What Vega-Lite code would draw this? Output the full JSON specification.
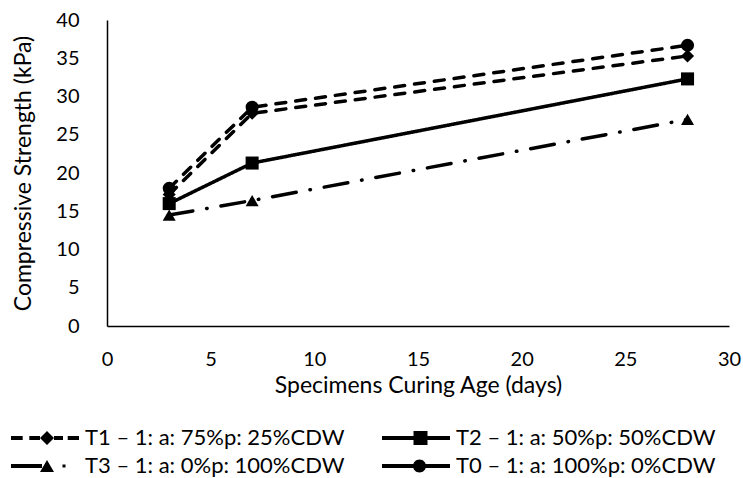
{
  "$schema": "https://vega.github.io/schema/vega-lite/v6.json",
  "autosize": {"type": "none"},
  "width": 622,
  "height": 306,
  "padding": {"left": 107, "top": 20, "right": 14, "bottom": 152},
  "background": "white",
  "config": {
    "view": {"stroke": null},
    "font": "Lato",
    "axis": {
      "labelFont": "Lato", "titleFont": "Lato",
      "labelFontSize": 20, "titleFontSize": 23,
      "labelColor": "#000", "titleColor": "#000",
      "titleFontWeight": "normal",
      "domainColor": "#000", "domainWidth": 1.5,
      "ticks": false, "tickSize": 0, "grid": false, "labelFlush": false
    }
  },
  "data": {
    "values": [
      {"series": "T1 – 1: a: 75%p: 25%CDW", "age": 3, "strength": 17.2},
      {"series": "T1 – 1: a: 75%p: 25%CDW", "age": 7, "strength": 27.8},
      {"series": "T1 – 1: a: 75%p: 25%CDW", "age": 28, "strength": 35.3},
      {"series": "T2 – 1: a: 50%p: 50%CDW", "age": 3, "strength": 16.0},
      {"series": "T2 – 1: a: 50%p: 50%CDW", "age": 7, "strength": 21.3},
      {"series": "T2 – 1: a: 50%p: 50%CDW", "age": 28, "strength": 32.3},
      {"series": "T3 – 1: a: 0%p: 100%CDW", "age": 3, "strength": 14.5},
      {"series": "T3 – 1: a: 0%p: 100%CDW", "age": 7, "strength": 16.4},
      {"series": "T3 – 1: a: 0%p: 100%CDW", "age": 28, "strength": 27.0},
      {"series": "T0 – 1: a: 100%p: 0%CDW", "age": 3, "strength": 18.0},
      {"series": "T0 – 1: a: 100%p: 0%CDW", "age": 7, "strength": 28.6},
      {"series": "T0 – 1: a: 100%p: 0%CDW", "age": 28, "strength": 36.7}
    ]
  },
  "encoding": {
    "x": {
      "field": "age", "type": "quantitative",
      "scale": {"domain": [0, 30], "nice": false},
      "axis": {"values": [0, 5, 10, 15, 20, 25, 30], "labelPadding": 23, "titlePadding": 5, "title": "Specimens Curing Age (days)"}
    },
    "y": {
      "field": "strength", "type": "quantitative",
      "scale": {"domain": [0, 40], "nice": false},
      "axis": {"values": [0, 5, 10, 15, 20, 25, 30, 35, 40], "labelPadding": 28, "titlePadding": 20, "title": "Compressive Strength (kPa)"}
    }
  },
  "layer": [
    {
      "mark": {"type": "line", "color": "#000", "strokeWidth": 3.5, "strokeCap": "round"},
      "encoding": {
        "strokeDash": {
          "field": "series", "type": "nominal",
          "scale": {
            "domain": ["T1 – 1: a: 75%p: 25%CDW", "T2 – 1: a: 50%p: 50%CDW", "T3 – 1: a: 0%p: 100%CDW", "T0 – 1: a: 100%p: 0%CDW"],
            "range": [[10, 10], [1, 0], [24, 14, 0.5, 14], [10, 10]]
          },
          "legend": null
        }
      }
    },
    {
      "mark": {"type": "point", "filled": true, "color": "#000", "opacity": 1, "size": 170},
      "encoding": {
        "shape": {
          "field": "series", "type": "nominal",
          "scale": {
            "domain": ["T1 – 1: a: 75%p: 25%CDW", "T2 – 1: a: 50%p: 50%CDW", "T3 – 1: a: 0%p: 100%CDW", "T0 – 1: a: 100%p: 0%CDW"],
            "range": ["diamond", "square", "triangle-up", "circle"]
          },
          "legend": null
        }
      }
    },
    {
      "transform": [{"filter": "datum.age < 0"}],
      "mark": {"type": "point", "filled": true, "color": "#000"},
      "encoding": {
        "shape": {
          "field": "series", "type": "nominal",
          "scale": {
            "domain": ["T1 – 1: a: 75%p: 25%CDW", "T2 – 1: a: 50%p: 50%CDW", "T3 – 1: a: 0%p: 100%CDW", "T0 – 1: a: 100%p: 0%CDW"],
            "range": [
              "M-3.4,-0.2H-2.23V0.2H-3.4Z M-1.57,-0.2H-0.5V0.2H-1.57Z M0.2,-0.7L0.9,0L0.2,0.7L-0.5,0Z M0.9,-0.2H1.8V0.2H0.9Z M2.27,-0.2H3.4V0.2H2.27Z",
              "M-3.4,-0.2H3.4V0.2H-3.4Z M-0.25,-0.7H1.15V0.7H-0.25Z",
              "M-3.4,-0.2H-0.3V0.2H-3.4Z M-0.5,0.6L0.2,-0.6L0.9,0.6Z M1.75,-0.15H2.05V0.15H1.75Z",
              "M-3.4,-0.2H3.4V0.2H-3.4Z M0.35,-0.65A0.65,0.65 0 1,1 0.35,0.65A0.65,0.65 0 1,1 0.35,-0.65Z"
            ]
          },
          "legend": {
            "title": null,
            "orient": "none",
            "legendX": -73,
            "legendY": 407,
            "columns": 2,
            "direction": "horizontal",
            "padding": 0,
            "symbolSize": 400,
            "symbolFillColor": "#000",
            "symbolStrokeColor": "#000",
            "symbolStrokeWidth": 0,
            "symbolOpacity": 1,
            "labelOffset": 29,
            "labelFont": "Lato",
            "labelFontSize": 22,
            "labelColor": "#000",
            "labelLimit": 0,
            "rowPadding": 6,
            "columnPadding": 37
          }
        }
      }
    }
  ],
  "resolve": {"scale": {"shape": "independent"}}
}
